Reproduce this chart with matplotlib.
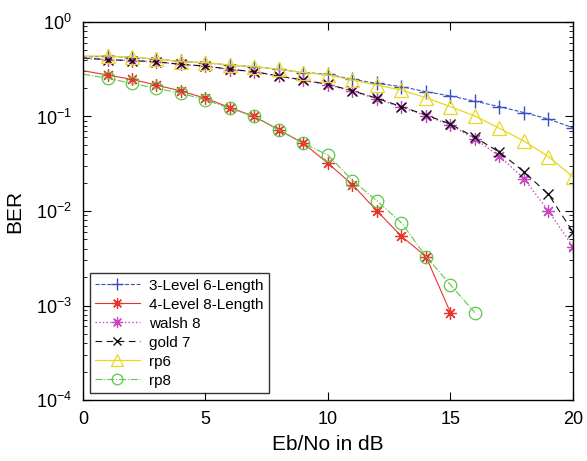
import numpy as np
import matplotlib
matplotlib.use('Agg')
import matplotlib.pyplot as plt

plt.rcParams['font.family'] = ['Liberation Sans', 'DejaVu Sans']
plt.rcParams['mathtext.fontset'] = 'custom'
plt.rcParams['mathtext.rm'] = 'Liberation Sans'

# Eb/No in dB
snr = list(range(0, 21))
snr_rp8 = list(range(0, 17))
snr_l8 = list(range(0, 16))

ber_l6 = [0.425, 0.435, 0.42, 0.405, 0.382, 0.37, 0.35, 0.336, 0.316, 0.292, 0.28,
          0.247, 0.224, 0.207, 0.183, 0.165, 0.145, 0.127, 0.11, 0.094, 0.076]
ber_l8 = [0.305, 0.275, 0.247, 0.215, 0.186, 0.156, 0.124, 0.100, 0.072, 0.052, 0.032,
          0.019, 0.0100, 0.0054, 0.0033, 0.00084]
ber_walsh = [0.41, 0.40, 0.39, 0.378, 0.355, 0.34, 0.314, 0.296, 0.266, 0.241, 0.217,
             0.185, 0.154, 0.125, 0.102, 0.081, 0.058, 0.038, 0.022, 0.010, 0.0042]
ber_gold = [0.415, 0.40, 0.39, 0.38, 0.356, 0.342, 0.316, 0.298, 0.268, 0.243, 0.219,
            0.187, 0.156, 0.127, 0.104, 0.083, 0.060, 0.042, 0.026, 0.015, 0.006]
ber_rp6 = [0.437, 0.437, 0.423, 0.406, 0.38, 0.371, 0.35, 0.336, 0.316, 0.291, 0.275,
           0.243, 0.215, 0.19, 0.158, 0.127, 0.101, 0.075, 0.055, 0.0376, 0.023]
ber_rp8 = [0.28, 0.254, 0.224, 0.199, 0.176, 0.15, 0.122, 0.100, 0.072, 0.052, 0.039,
           0.021, 0.0128, 0.0075, 0.0033, 0.00165, 0.00084]

fig = plt.figure(figsize=(5.87, 4.61), dpi=100)
ax = fig.add_axes([0.1414, 0.1323, 0.8347, 0.8200])

mk = slice(1, None)
aster = (8, 2, 0)   # matlab style asterisk
ax.semilogy(snr, ber_l6, color='#3a50c0', ls='--', lw=0.8, marker='+', ms=10,
            mew=1.0, markevery=mk, label='3-Level 6-Length')
ax.semilogy(snr_l8, ber_l8, color='#e8352c', ls='-', lw=0.8, marker=aster, ms=9,
            mew=0.9, markevery=mk, label='4-Level 8-Length')
ax.semilogy(snr, ber_walsh, color='#c548c0', ls=':', lw=1.0, marker=aster, ms=9,
            mew=0.9, markevery=mk, label='walsh 8')
ax.semilogy(snr, ber_gold, color='#111111', ls=(0, (6, 4)), lw=0.8, marker='x', ms=7,
            mew=1.0, markevery=mk, label='gold 7')
ax.semilogy(snr, ber_rp6, color='#e8d820', ls='-', lw=0.9, marker='^', ms=10,
            mfc='none', mew=0.9, markevery=mk, label='rp6')
ax.semilogy(snr_rp8, ber_rp8, color='#5cc84a', ls='-.', lw=0.8, marker='o', ms=9,
            mfc='none', mew=0.9, markevery=mk, label='rp8')

ax.set_xlim(0, 20)
ax.set_ylim(1e-4, 1)
ax.set_xticks([0, 5, 10, 15, 20])
ax.tick_params(which='both', direction='in', top=True, right=True, labelsize=13)
ax.tick_params(axis='y', pad=8)
ax.tick_params(axis='x', pad=8)
ax.tick_params(which='major', length=6, width=0.8)
ax.tick_params(which='minor', length=3, width=0.6)
for s in ax.spines.values():
    s.set_linewidth(1.0)

ax.set_xlabel('Eb/No in dB', fontsize=15, labelpad=5)
ax.set_ylabel('BER', fontsize=15, labelpad=8)

leg = ax.legend(loc='lower left', fontsize=11, frameon=True, fancybox=False,
                edgecolor='black', handlelength=2.9, borderaxespad=0.45,
                labelspacing=0.33, handletextpad=0.6, borderpad=0.35,
                markerscale=0.85)
leg.get_frame().set_linewidth(1.0)

fig.savefig('out.png', dpi=100)
